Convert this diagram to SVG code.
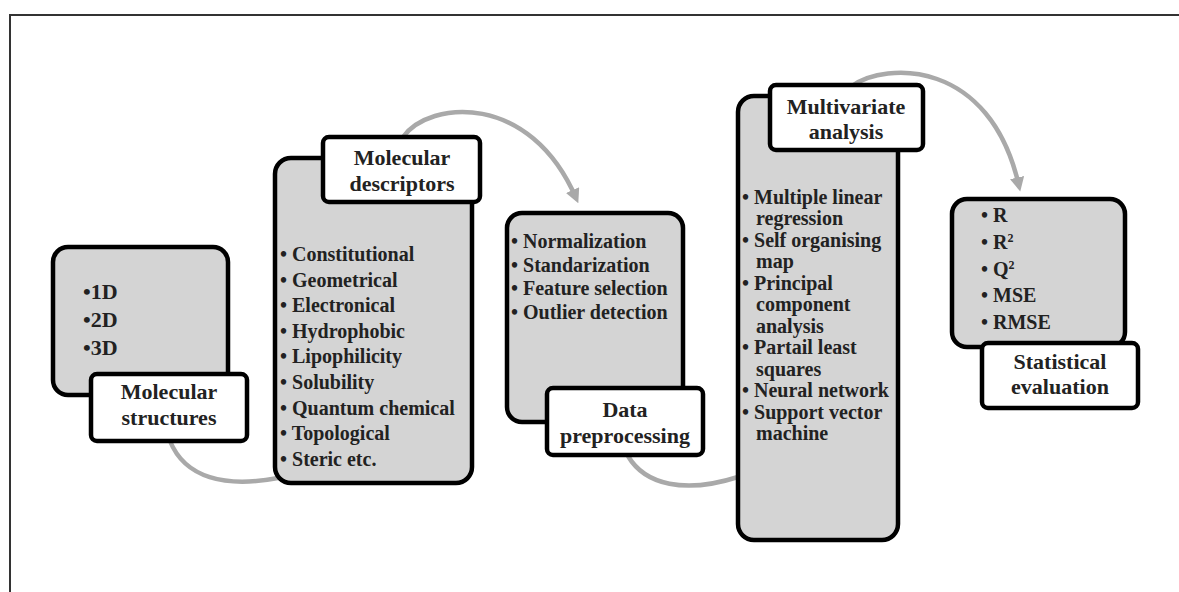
<svg xmlns="http://www.w3.org/2000/svg" width="1179" height="592" viewBox="0 0 1179 592">
<style>
.box{fill:#d4d4d4;stroke:#000;stroke-width:4.5}
.lbl{fill:#fff;stroke:#000;stroke-width:4.5}
.t{font-family:"Liberation Serif","Times New Roman",serif;font-weight:bold;font-size:20px;fill:#222}
.h{font-family:"Liberation Serif","Times New Roman",serif;font-weight:bold;font-size:22px;fill:#222;text-anchor:middle}
.c{fill:none;stroke:#a9a9a9;stroke-width:4.5}
</style>
<defs>
<marker id="arr" viewBox="0 0 10 10" refX="6" refY="5" markerWidth="3.2" markerHeight="3.2" orient="auto" markerUnits="strokeWidth">
<path d="M0,0 L10,5 L0,10 z" fill="#a9a9a9"/>
</marker>
</defs>
<rect width="1179" height="592" fill="#fff"/>
<path d="M10,592 V15 H1179" fill="none" stroke="#333" stroke-width="2"/>
<g id="connectors">
<path class="c" d="M170,441 C185,478 225,488 278,478"/>
<path class="c" d="M403,137 C430,100 530,92 576,198" marker-end="url(#arr)"/>
<path class="c" d="M628,456 C645,485 685,494 738,477"/>
<path class="c" d="M852,86 C885,62 990,58 1019,186" marker-end="url(#arr)"/>
</g>
<g id="molecular-structures">
<rect class="box" x="53" y="247" width="175" height="148" rx="15"/>
<text class="t" x="83" y="299" style="font-size:22px">•1D</text>
<text class="t" x="83" y="327" style="font-size:22px">•2D</text>
<text class="t" x="83" y="355" style="font-size:22px">•3D</text>
<rect class="lbl" x="91" y="374" width="156" height="67" rx="6"/>
<text class="h" x="169" y="399">Molecular</text>
<text class="h" x="169" y="425">structures</text>
</g>
<g id="molecular-descriptors">
<rect class="box" x="275" y="158" width="197" height="325" rx="16"/>
<rect class="lbl" x="323" y="137" width="157" height="65" rx="6"/>
<text class="h" x="402" y="165">Molecular</text>
<text class="h" x="402" y="191">descriptors</text>
<text class="t" x="280" y="261">• Constitutional</text>
<text class="t" x="280" y="287">• Geometrical</text>
<text class="t" x="280" y="312">• Electronical</text>
<text class="t" x="280" y="338">• Hydrophobic</text>
<text class="t" x="280" y="363">• Lipophilicity</text>
<text class="t" x="280" y="389">• Solubility</text>
<text class="t" x="280" y="415">• Quantum chemical</text>
<text class="t" x="280" y="440">• Topological</text>
<text class="t" x="280" y="466">• Steric etc.</text>
</g>
<g id="data-preprocessing">
<rect class="box" x="507" y="213" width="176" height="209" rx="15"/>
<text class="t" x="511" y="248">• Normalization</text>
<text class="t" x="511" y="272">• Standarization</text>
<text class="t" x="511" y="295">• Feature selection</text>
<text class="t" x="511" y="319">• Outlier detection</text>
<rect class="lbl" x="547" y="388" width="156" height="67" rx="6"/>
<text class="h" x="625" y="417">Data</text>
<text class="h" x="625" y="443">preprocessing</text>
</g>
<g id="multivariate-analysis">
<rect class="box" x="738" y="96" width="160" height="444" rx="16"/>
<rect class="lbl" x="770" y="85" width="153" height="65" rx="6"/>
<text class="h" x="846" y="114">Multivariate</text>
<text class="h" x="846" y="139">analysis</text>
<text class="t" x="742" y="204">• Multiple linear</text>
<text class="t" x="756" y="225">regression</text>
<text class="t" x="742" y="247">• Self organising</text>
<text class="t" x="756" y="268">map</text>
<text class="t" x="742" y="290">• Principal</text>
<text class="t" x="756" y="311">component</text>
<text class="t" x="756" y="333">analysis</text>
<text class="t" x="742" y="354">• Partail least</text>
<text class="t" x="756" y="376">squares</text>
<text class="t" x="742" y="397">• Neural network</text>
<text class="t" x="742" y="419">• Support vector</text>
<text class="t" x="756" y="440">machine</text>
</g>
<g id="statistical-evaluation">
<rect class="box" x="952" y="199" width="173" height="148" rx="15"/>
<text class="t" x="981" y="222">• R</text>
<text class="t" x="981" y="249">• R<tspan dy="-7" style="font-size:12px">2</tspan></text>
<text class="t" x="981" y="276">• Q<tspan dy="-7" style="font-size:12px">2</tspan></text>
<text class="t" x="981" y="302">• MSE</text>
<text class="t" x="981" y="329">• RMSE</text>
<rect class="lbl" x="982" y="343" width="156" height="65" rx="6"/>
<text class="h" x="1060" y="369">Statistical</text>
<text class="h" x="1060" y="394">evaluation</text>
</g>
</svg>
